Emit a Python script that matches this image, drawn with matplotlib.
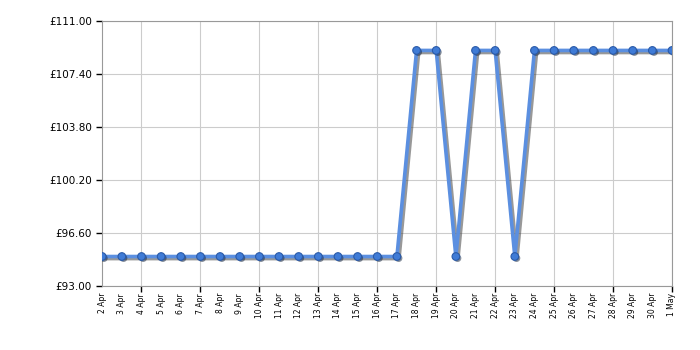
import matplotlib
matplotlib.use("Agg")
import matplotlib.pyplot as plt
import matplotlib.patheffects as pe
import numpy as np

dates = ["2 Apr", "3 Apr", "4 Apr", "5 Apr", "6 Apr", "7 Apr", "8 Apr", "9 Apr",
         "10 Apr", "11 Apr", "12 Apr", "13 Apr", "14 Apr", "15 Apr", "16 Apr",
         "17 Apr", "18 Apr", "19 Apr", "20 Apr", "21 Apr", "22 Apr", "23 Apr",
         "24 Apr", "25 Apr", "26 Apr", "27 Apr", "28 Apr", "29 Apr", "30 Apr", "1 May"]
prices = [95, 95, 95, 95, 95, 95, 95, 95, 95, 95, 95, 95, 95, 95, 95, 95,
          109, 109, 95, 109, 109, 95, 109, 109, 109, 109, 109, 109, 109, 109]
yticks = [93.0, 96.6, 100.2, 103.8, 107.4, 111.0]

fig = plt.figure(figsize=(7, 3.5), dpi=100)
ax = fig.add_axes([0.146, 0.183, 0.814, 0.757])

x = np.arange(len(dates))
shadow = [pe.SimpleLineShadow(offset=(1.5, -1.5), shadow_color="#444444", alpha=0.55), pe.Normal()]
ax.plot(x, prices, color="#5b8fe0", lw=2.6, zorder=3, path_effects=shadow)
ax.plot(x, prices, ls="none", marker="o", ms=5.5, mfc="#3f7bd6", mec="#2a5aa8", mew=0.8,
        zorder=4, path_effects=[pe.SimplePatchShadow(offset=(1.2, -1.2), alpha=0.5), pe.Normal()])

ax.set_xlim(0, len(dates) - 1)
ax.set_ylim(93, 111)
ax.set_yticks(yticks)
ax.set_yticklabels([f"£{v:.2f}" for v in yticks], fontsize=7.5)
ax.set_xticks(x)
ax.set_xticklabels(dates, rotation=90, fontsize=5.5)
ax.tick_params(axis="x", which="major", length=0, pad=5)
ax.tick_params(axis="y", length=4, width=1)

# vertical gridlines and ticks every 3 days, counting back from the last date
grid_x = list(range(len(dates) - 1, -1, -3))
ax.xaxis.remove_overlapping_locs = False
ax.set_xticks(grid_x, minor=True)
ax.tick_params(axis="x", which="minor", length=4, width=1, color="black")
for i in grid_x:
    ax.axvline(i, color="#cccccc", lw=0.8, zorder=1)
ax.grid(axis="y", color="#cccccc", lw=0.8, zorder=1)
for sp in ax.spines.values():
    sp.set_color("#999999")

fig.savefig("out.png", dpi=100)
